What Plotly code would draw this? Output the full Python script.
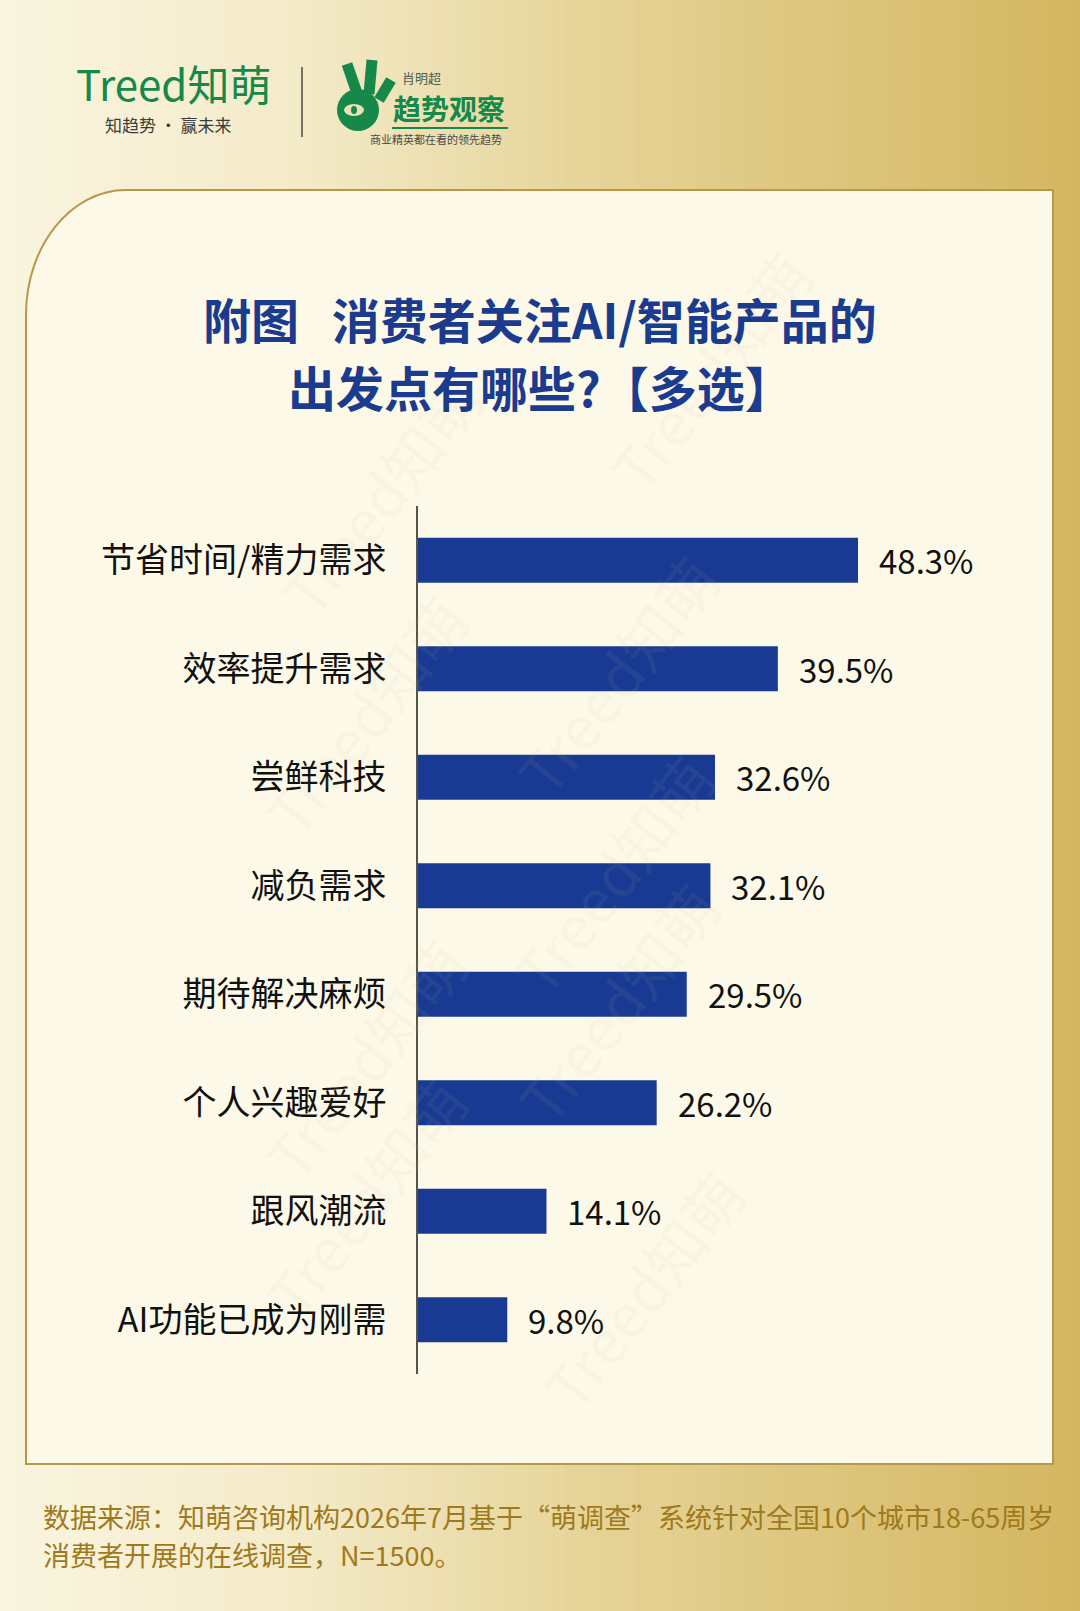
import plotly.graph_objects as go

# ---------------- data ----------------
categories = ["节省时间/精力需求", "效率提升需求", "尝鲜科技", "减负需求",
              "期待解决麻烦", "个人兴趣爱好", "跟风潮流", "AI功能已成为刚需"]
values = [48.3, 39.5, 32.6, 32.1, 29.5, 26.2, 14.1, 9.8]

title_lines = ["附图\u00a0\u00a0\u00a0消费者关注AI/智能产品的", "出发点有哪些?【多选】"]
footer_lines = ["数据来源：知萌咨询机构2026年7月基于“萌调查”系统针对全国10个城市18-65周岁",
                "消费者开展的在线调查，N=1500。"]

W, H = 1080, 1611
FONT = "Noto Sans CJK SC"


def px(x):
    return x / W


def py(y):
    return 1 - y / H


def lerp(c1, c2, t):
    return tuple(int(round(a + (b - a) * t)) for a, b in zip(c1, c2))


# background gradient stops (pixel x, rgb)
stops = [(0, (250, 245, 224)), (300, (243, 234, 200)), (600, (229, 211, 150)),
         (1080, (211, 182, 96))]


def grad_color(x):
    for (x0, c0), (x1, c1) in zip(stops[:-1], stops[1:]):
        if x0 <= x <= x1:
            return lerp(c0, c1, (x - x0) / (x1 - x0))
    return stops[-1][1]


shapes = []
step = 12
for xs in range(0, W, step):
    c = grad_color(xs + step / 2)
    shapes.append(dict(type="rect", xref="paper", yref="paper", layer="below",
                       x0=px(xs), x1=px(xs + step + 1), y0=0, y1=1,
                       line=dict(width=0), fillcolor="rgb(%d,%d,%d)" % c))

# card with rounded top-left corner
cx0, cy0, cx1, cy1 = 26, 190, 1053, 1464
rx, ry = 100, 125
k = 0.552
path = ("M %f,%f C %f,%f %f,%f %f,%f L %f,%f L %f,%f L %f,%f Z" % (
    px(cx0), py(cy0 + ry),
    px(cx0), py(cy0 + ry - k * ry),
    px(cx0 + rx - k * rx), py(cy0),
    px(cx0 + rx), py(cy0),
    px(cx1), py(cy0),
    px(cx1), py(cy1),
    px(cx0), py(cy1)))
shapes.append(dict(type="path", xref="paper", yref="paper", layer="below", path=path,
                   fillcolor="#fdf9e9", line=dict(color="#b9974a", width=2)))

# header separator
shapes.append(dict(type="line", xref="paper", yref="paper", x0=px(302), x1=px(302),
                   y0=py(67), y1=py(137), line=dict(color="#4a4a40", width=1.5)))
# hand icon (rough)
green = "#16884a"
for (x0, y0, x1, y1) in [(358, 96, 347, 64), (369, 94, 372, 60), (379, 100, 391, 80)]:
    shapes.append(dict(type="line", xref="paper", yref="paper", x0=px(x0), y0=py(y0),
                       x1=px(x1), y1=py(y1), line=dict(color=green, width=11)))
shapes.append(dict(type="circle", xref="paper", yref="paper", x0=px(337), x1=px(379),
                   y0=py(131), y1=py(89), fillcolor=green, line=dict(width=0)))
shapes.append(dict(type="circle", xref="paper", yref="paper", x0=px(344), x1=px(364),
                   y0=py(116), y1=py(104), fillcolor="#e9e2b8", line=dict(width=0)))
shapes.append(dict(type="circle", xref="paper", yref="paper", x0=px(351), x1=px(357),
                   y0=py(114), y1=py(106), fillcolor=green, line=dict(width=0)))
shapes.append(dict(type="line", xref="paper", yref="paper", x0=px(392), x1=px(508),
                   y0=py(128), y1=py(128), line=dict(color=green, width=2)))

annotations = []

# watermarks
wm = [(250, 345), (690, 225), (720, 520), (235, 695), (715, 850), (235, 1030),
      (720, 1110), (235, 1300), (745, 1390)]
for (x, y) in wm:
    annotations.append(dict(x=px(x * 1.0276), y=py(y * 1.0276), xref="paper", yref="paper",
                            text="Treed知萌", showarrow=False, textangle=-52,
                            font=dict(family=FONT, size=60, color="rgba(200,185,140,0.08)")))

# header texts
annotations += [
    dict(x=px(74), y=py(82), xref="paper", yref="paper", xanchor="left", yanchor="middle",
         text="Treed知萌", showarrow=False, font=dict(family=FONT, size=42, color=green)),
    dict(x=px(168), y=py(124), xref="paper", yref="paper", xanchor="center", yanchor="middle",
         text="知趋势 · 赢未来", showarrow=False, font=dict(family=FONT, size=17, color="#3c3c3c")),
    dict(x=px(400), y=py(77), xref="paper", yref="paper", xanchor="left", yanchor="middle",
         text="肖明超", showarrow=False, font=dict(family=FONT, size=13, color="#4d5e4d")),
    dict(x=px(391), y=py(108), xref="paper", yref="paper", xanchor="left", yanchor="middle",
         text="<b>趋势观察</b>", showarrow=False, font=dict(family=FONT, size=28, color=green)),
    dict(x=px(436), y=py(139), xref="paper", yref="paper", xanchor="center", yanchor="middle",
         text="商业精英都在看的领先趋势", showarrow=False,
         font=dict(family=FONT, size=11, color="#4a4a4a")),
]

# title
for line, yc in zip(title_lines, [318, 386]):
    annotations.append(dict(x=0.5, y=py(yc), xref="paper", yref="paper", xanchor="center",
                            yanchor="middle", text="<b>%s</b>" % line, showarrow=False,
                            font=dict(family=FONT, size=48, color="#1b3b8e")))

# footer
for line, yc in zip(footer_lines, [1516, 1554]):
    annotations.append(dict(x=px(41), y=py(yc), xref="paper", yref="paper", xanchor="left",
                            yanchor="middle", text=line, showarrow=False,
                            font=dict(family=FONT, size=27, color="#9f7a1c")))

# value labels
for c, v in zip(categories, values):
    annotations.append(dict(x=v, y=c, xref="x", yref="y", xanchor="left", yanchor="middle",
                            xshift=19, text="%.1f%%" % v, showarrow=False,
                            font=dict(family=FONT, size=33, color="#111111")))

fig = go.Figure(go.Bar(
    x=values, y=categories, orientation="h", width=0.415,
    marker=dict(color="#183a92", line=dict(width=0)), hoverinfo="skip"))

px_per_pct = 9.11
x_left, x_right = 418, 1000
fig.update_layout(
    width=W, height=H, margin=dict(l=0, r=0, t=0, b=0),
    paper_bgcolor="#f3eac6", plot_bgcolor="rgba(0,0,0,0)",
    showlegend=False, shapes=shapes, annotations=annotations,
    xaxis=dict(domain=[px(x_left), px(x_right)],
               range=[0, (x_right - x_left) / px_per_pct],
               visible=False, fixedrange=True),
    yaxis=dict(domain=[py(1374), py(506)], autorange="reversed", type="category",
               showline=True, linecolor="#55554a", linewidth=1.5, ticks="",
               showgrid=False, zeroline=False, ticklabelstandoff=23,
               tickfont=dict(family=FONT, size=34, color="#111111")),
)

fig.write_html("out.html", config={"displayModeBar": False},
               post_script="document.body.style.margin='0';document.body.style.overflow='hidden';")
